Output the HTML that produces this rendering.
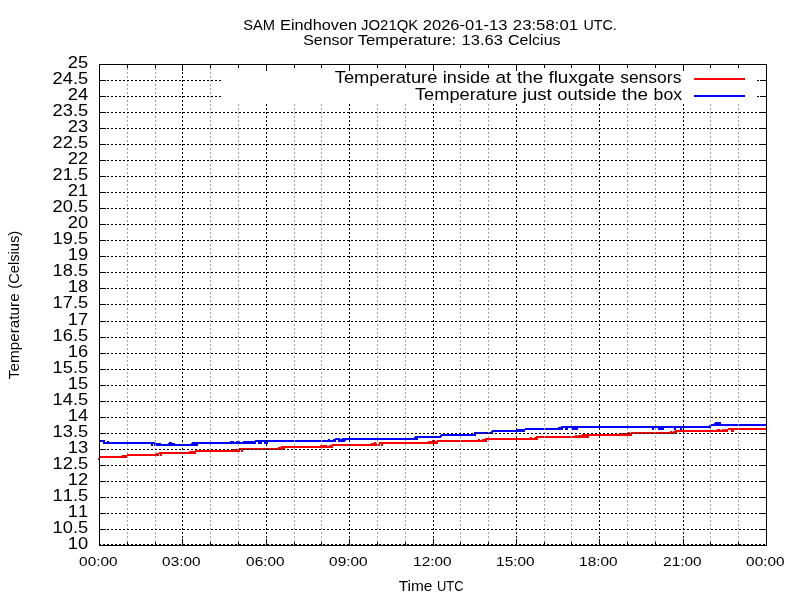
<!DOCTYPE html>
<html><head><meta charset="utf-8"><title>SAM Eindhoven temperature</title>
<style>
html,body{margin:0;padding:0;background:#fff;}
body{width:800px;height:600px;overflow:hidden;}
svg{display:block;will-change:transform;}
text{font-family:"Liberation Sans",sans-serif;fill:#000;}
text.t{font-kerning:none;}
</style></head><body>
<svg width="800" height="600" viewBox="0 0 800 600" shape-rendering="crispEdges">
<rect x="0" y="0" width="800" height="600" fill="#fff"/>
<path fill="#ff0000" d="M98 458h1v2h-1zM99 456h23v2h-23zM122 455h5v3h-5zM127 454h1v4h-1zM128 454h28v2h-28zM156 453h3v3h-3zM159 452h1v2h-1zM160 452h2v4h-2zM162 452h27v2h-27zM189 451h6v3h-6zM195 450h1v4h-1zM196 450h37v2h-37zM233 449h6v3h-6zM239 448h1v4h-1zM240 448h1v2h-1zM241 448h2v4h-2zM243 448h35v2h-35zM278 447h3v3h-3zM281 446h4v4h-4zM285 446h35v2h-35zM320 445h1v3h-1zM321 446h1v2h-1zM322 445h5v3h-5zM327 446h2v2h-2zM329 445h3v3h-3zM332 444h1v4h-1zM333 444h38v2h-38zM371 443h3v3h-3zM374 442h2v4h-2zM376 443h1v3h-1zM377 444h2v2h-2zM379 442h1v4h-1zM380 442h1v2h-1zM381 442h2v4h-2zM383 442h45v2h-45zM428 441h4v3h-4zM432 440h3v4h-3zM435 441h2v3h-2zM437 440h1v4h-1zM438 440h40v2h-40zM478 439h2v3h-2zM480 440h2v2h-2zM482 439h3v3h-3zM485 438h2v4h-2zM487 438h43v2h-43zM530 437h2v3h-2zM532 438h2v2h-2zM534 437h2v3h-2zM536 436h2v4h-2zM538 436h37v2h-37zM575 435h2v3h-2zM577 436h1v2h-1zM578 435h4v3h-4zM582 434h7v4h-7zM589 434h32v2h-32zM621 433h7v3h-7zM628 432h2v4h-2zM630 433h1v3h-1zM631 432h1v4h-1zM632 432h38v2h-38zM670 431h2v3h-2zM672 432h1v2h-1zM673 431h2v3h-2zM675 430h2v4h-2zM677 430h40v2h-40zM717 429h3v3h-3zM720 430h2v2h-2zM722 429h2v3h-2zM724 430h1v2h-1zM725 429h3v3h-3zM728 428h3v2h-3zM731 428h3v4h-3zM734 428h33v2h-33z"/>
<path fill="#0000ff" d="M99 440h4v2h-4zM103 440h2v4h-2zM105 442h2v2h-2zM107 441h2v3h-2zM109 442h42v2h-42zM151 442h2v4h-2zM153 442h1v2h-1zM154 442h1v4h-1zM155 443h6v3h-6zM161 444h7v2h-7zM168 443h1v3h-1zM169 442h3v4h-3zM172 443h3v3h-3zM175 444h16v2h-16zM191 443h1v3h-1zM192 442h6v4h-6zM198 442h32v2h-32zM230 441h4v3h-4zM234 442h2v2h-2zM236 441h4v3h-4zM240 442h3v2h-3zM243 441h12v3h-12zM255 440h1v4h-1zM256 440h2v2h-2zM258 440h4v4h-4zM262 440h2v2h-2zM264 440h4v4h-4zM268 440h60v2h-60zM328 439h2v3h-2zM330 440h3v2h-3zM333 439h2v3h-2zM335 438h1v4h-1zM336 438h2v2h-2zM338 438h2v4h-2zM340 439h2v3h-2zM342 438h3v4h-3zM345 438h1v3h-1zM346 438h68v2h-68zM414 437h1v3h-1zM415 436h3v4h-3zM418 436h22v2h-22zM440 435h1v3h-1zM441 434h1v3h-1zM442 434h32v2h-32zM474 432h2v4h-2zM476 432h15v2h-15zM491 431h1v3h-1zM492 430h1v3h-1zM493 430h23v2h-23zM516 429h9v3h-9zM525 428h33v2h-33zM558 427h3v3h-3zM561 426h2v4h-2zM563 426h2v2h-2zM565 426h3v4h-3zM568 426h4v2h-4zM572 426h6v4h-6zM578 426h74v2h-74zM652 426h2v4h-2zM654 426h4v2h-4zM658 426h6v4h-6zM664 426h10v2h-10zM674 426h2v4h-2zM676 426h4v2h-4zM680 426h2v4h-2zM682 426h27v2h-27zM709 425h1v3h-1zM710 424h1v4h-1zM711 424h3v2h-3zM714 423h1v3h-1zM715 422h6v4h-6zM721 424h46v2h-46z"/>
<g stroke="#a0a0a0" stroke-width="1" stroke-dasharray="2 2"><line x1="127.5" y1="64" x2="127.5" y2="545"/>
<line x1="155.5" y1="64" x2="155.5" y2="545"/>
<line x1="210.5" y1="64" x2="210.5" y2="545"/>
<line x1="238.5" y1="104" x2="238.5" y2="545"/>
<line x1="294.5" y1="104" x2="294.5" y2="545"/>
<line x1="321.5" y1="104" x2="321.5" y2="545"/>
<line x1="377.5" y1="104" x2="377.5" y2="545"/>
<line x1="405.5" y1="104" x2="405.5" y2="545"/>
<line x1="460.5" y1="104" x2="460.5" y2="545"/>
<line x1="488.5" y1="104" x2="488.5" y2="545"/>
<line x1="544.5" y1="104" x2="544.5" y2="545"/>
<line x1="571.5" y1="104" x2="571.5" y2="545"/>
<line x1="627.5" y1="104" x2="627.5" y2="545"/>
<line x1="655.5" y1="104" x2="655.5" y2="545"/>
<line x1="710.5" y1="104" x2="710.5" y2="545"/>
<line x1="738.5" y1="104" x2="738.5" y2="545"/></g>
<g stroke="#000" stroke-width="1" stroke-dasharray="2 2"><line x1="182.5" y1="64" x2="182.5" y2="545"/>
<line x1="266.5" y1="104" x2="266.5" y2="545"/>
<line x1="349.5" y1="104" x2="349.5" y2="545"/>
<line x1="433.5" y1="104" x2="433.5" y2="545"/>
<line x1="516.5" y1="104" x2="516.5" y2="545"/>
<line x1="599.5" y1="104" x2="599.5" y2="545"/>
<line x1="683.5" y1="104" x2="683.5" y2="545"/>
<line x1="99" y1="80.5" x2="221" y2="80.5"/>
<line x1="757" y1="80.5" x2="766" y2="80.5"/>
<line x1="99" y1="96.5" x2="221" y2="96.5"/>
<line x1="757" y1="96.5" x2="766" y2="96.5"/>
<line x1="99" y1="112.5" x2="766" y2="112.5"/>
<line x1="99" y1="128.5" x2="766" y2="128.5"/>
<line x1="99" y1="144.5" x2="766" y2="144.5"/>
<line x1="99" y1="160.5" x2="766" y2="160.5"/>
<line x1="99" y1="176.5" x2="766" y2="176.5"/>
<line x1="99" y1="192.5" x2="766" y2="192.5"/>
<line x1="99" y1="208.5" x2="766" y2="208.5"/>
<line x1="99" y1="224.5" x2="766" y2="224.5"/>
<line x1="99" y1="240.5" x2="766" y2="240.5"/>
<line x1="99" y1="256.5" x2="766" y2="256.5"/>
<line x1="99" y1="272.5" x2="766" y2="272.5"/>
<line x1="99" y1="288.5" x2="766" y2="288.5"/>
<line x1="99" y1="304.5" x2="766" y2="304.5"/>
<line x1="99" y1="321.5" x2="766" y2="321.5"/>
<line x1="99" y1="337.5" x2="766" y2="337.5"/>
<line x1="99" y1="353.5" x2="766" y2="353.5"/>
<line x1="99" y1="369.5" x2="766" y2="369.5"/>
<line x1="99" y1="385.5" x2="766" y2="385.5"/>
<line x1="99" y1="401.5" x2="766" y2="401.5"/>
<line x1="99" y1="417.5" x2="766" y2="417.5"/>
<line x1="99" y1="433.5" x2="766" y2="433.5"/>
<line x1="99" y1="449.5" x2="766" y2="449.5"/>
<line x1="99" y1="465.5" x2="766" y2="465.5"/>
<line x1="99" y1="481.5" x2="766" y2="481.5"/>
<line x1="99" y1="497.5" x2="766" y2="497.5"/>
<line x1="99" y1="513.5" x2="766" y2="513.5"/>
<line x1="99" y1="529.5" x2="766" y2="529.5"/>
<line x1="99" y1="544.5" x2="766" y2="544.5"/></g>
<path fill="#000" d="M99 64h668v1h-668zM99 545h668v1h-668zM99 64h1v482h-1zM766 64h1v482h-1zM99 65h1v6h-1zM99 539h1v6h-1zM127 65h1v3h-1zM127 542h1v3h-1zM155 65h1v3h-1zM155 542h1v3h-1zM182 65h1v6h-1zM182 539h1v6h-1zM210 65h1v3h-1zM210 542h1v3h-1zM238 65h1v3h-1zM238 542h1v3h-1zM266 65h1v6h-1zM266 539h1v6h-1zM294 65h1v3h-1zM294 542h1v3h-1zM321 65h1v3h-1zM321 542h1v3h-1zM349 65h1v6h-1zM349 539h1v6h-1zM377 65h1v3h-1zM377 542h1v3h-1zM405 65h1v3h-1zM405 542h1v3h-1zM433 65h1v6h-1zM433 539h1v6h-1zM460 65h1v3h-1zM460 542h1v3h-1zM488 65h1v3h-1zM488 542h1v3h-1zM516 65h1v6h-1zM516 539h1v6h-1zM544 65h1v3h-1zM544 542h1v3h-1zM571 65h1v3h-1zM571 542h1v3h-1zM599 65h1v6h-1zM599 539h1v6h-1zM627 65h1v3h-1zM627 542h1v3h-1zM655 65h1v3h-1zM655 542h1v3h-1zM683 65h1v6h-1zM683 539h1v6h-1zM710 65h1v3h-1zM710 542h1v3h-1zM738 65h1v3h-1zM738 542h1v3h-1zM766 65h1v6h-1zM766 539h1v6h-1zM100 64h6v1h-6zM760 64h6v1h-6zM100 80h6v1h-6zM760 80h6v1h-6zM100 96h6v1h-6zM760 96h6v1h-6zM100 112h6v1h-6zM760 112h6v1h-6zM100 128h6v1h-6zM760 128h6v1h-6zM100 144h6v1h-6zM760 144h6v1h-6zM100 160h6v1h-6zM760 160h6v1h-6zM100 176h6v1h-6zM760 176h6v1h-6zM100 192h6v1h-6zM760 192h6v1h-6zM100 208h6v1h-6zM760 208h6v1h-6zM100 224h6v1h-6zM760 224h6v1h-6zM100 240h6v1h-6zM760 240h6v1h-6zM100 256h6v1h-6zM760 256h6v1h-6zM100 272h6v1h-6zM760 272h6v1h-6zM100 288h6v1h-6zM760 288h6v1h-6zM100 304h6v1h-6zM760 304h6v1h-6zM100 321h6v1h-6zM760 321h6v1h-6zM100 337h6v1h-6zM760 337h6v1h-6zM100 353h6v1h-6zM760 353h6v1h-6zM100 369h6v1h-6zM760 369h6v1h-6zM100 385h6v1h-6zM760 385h6v1h-6zM100 401h6v1h-6zM760 401h6v1h-6zM100 417h6v1h-6zM760 417h6v1h-6zM100 433h6v1h-6zM760 433h6v1h-6zM100 449h6v1h-6zM760 449h6v1h-6zM100 465h6v1h-6zM760 465h6v1h-6zM100 481h6v1h-6zM760 481h6v1h-6zM100 497h6v1h-6zM760 497h6v1h-6zM100 513h6v1h-6zM760 513h6v1h-6zM100 529h6v1h-6zM760 529h6v1h-6zM100 545h6v1h-6zM760 545h6v1h-6z"/>
<rect x="694" y="78" width="51" height="2" fill="#ff0000"/>
<rect x="694" y="95" width="51" height="2" fill="#0000ff"/>
<text transform="translate(243.23 29.90) scale(0.9439 1)" font-size="15.55">SAM</text>
<text transform="translate(280.05 29.90) scale(1.0490 1)" font-size="15.55">Eindhoven</text>
<text transform="translate(361.01 29.90) scale(0.9607 1)" font-size="15.55">JO21QK</text>
<text transform="translate(422.73 29.90) scale(1.0652 1)" font-size="15.55">2026-01-13</text>
<text transform="translate(512.82 29.90) scale(1.0779 1)" font-size="15.55">23:58:01</text>
<text transform="translate(583.45 29.90) scale(0.9195 1)" font-size="15.55">UTC.</text>
<text transform="translate(303.18 44.90) scale(1.0358 1)" font-size="15.4">Sensor</text>
<text transform="translate(357.72 44.90) scale(1.0863 1)" font-size="15.4">Temperature:</text>
<text transform="translate(461.52 44.90) scale(1.0739 1)" font-size="15.4">13.63</text>
<text transform="translate(508.06 44.90) scale(1.0402 1)" font-size="15.4">Celcius</text>
<text transform="translate(334.79 83.00) scale(1.0980 1)" font-size="16.64">Temperature</text>
<text transform="translate(442.84 83.00) scale(1.0899 1)" font-size="16.64">inside</text>
<text transform="translate(495.56 83.00) scale(1.1382 1)" font-size="16.64">at</text>
<text transform="translate(516.88 83.00) scale(1.1371 1)" font-size="16.64">the</text>
<text transform="translate(548.43 83.00) scale(1.1353 1)" font-size="16.64">fluxgate</text>
<text transform="translate(620.13 83.00) scale(1.0522 1)" font-size="16.64">sensors</text>
<text transform="translate(414.89 100.00) scale(1.0977 1)" font-size="16.64">Temperature</text>
<text transform="translate(522.76 100.00) scale(1.1201 1)" font-size="16.64">just</text>
<text transform="translate(557.26 100.00) scale(1.1047 1)" font-size="16.64">outside</text>
<text transform="translate(621.85 100.00) scale(1.1367 1)" font-size="16.64">the</text>
<text transform="translate(653.61 100.00) scale(1.0615 1)" font-size="16.64">box</text>
<text transform="translate(398.65 591.00) scale(1.1032 1)" font-size="14.0">Time</text>
<text transform="translate(436.97 591.00) scale(0.9254 1)" font-size="14.0">UTC</text>
<text transform="translate(19.30 379.24) rotate(-90) scale(1.0989 1)" font-size="13.93">Temperature</text>
<text transform="translate(19.30 288.73) rotate(-90) scale(1.0544 1)" font-size="13.93">(Celsius)</text>
<text class="t" transform="translate(98.30 566.20) scale(1.1519 1)" font-size="13.33" text-anchor="middle">00:00</text>
<text class="t" transform="translate(181.30 566.20) scale(1.1519 1)" font-size="13.33" text-anchor="middle">03:00</text>
<text class="t" transform="translate(265.30 566.20) scale(1.1519 1)" font-size="13.33" text-anchor="middle">06:00</text>
<text class="t" transform="translate(348.30 566.20) scale(1.1519 1)" font-size="13.33" text-anchor="middle">09:00</text>
<text class="t" transform="translate(432.30 566.20) scale(1.1519 1)" font-size="13.33" text-anchor="middle">12:00</text>
<text class="t" transform="translate(515.30 566.20) scale(1.1519 1)" font-size="13.33" text-anchor="middle">15:00</text>
<text class="t" transform="translate(598.30 566.20) scale(1.1519 1)" font-size="13.33" text-anchor="middle">18:00</text>
<text class="t" transform="translate(682.30 566.20) scale(1.1519 1)" font-size="13.33" text-anchor="middle">21:00</text>
<text class="t" transform="translate(765.30 566.20) scale(1.1519 1)" font-size="13.33" text-anchor="middle">00:00</text>
<text class="t" transform="translate(88.15 68.10) scale(1.1000 1)" font-size="16.64" text-anchor="end">25</text>
<text class="t" transform="translate(88.15 84.10) scale(1.1000 1)" font-size="16.64" text-anchor="end">24.5</text>
<text class="t" transform="translate(88.15 100.10) scale(1.1000 1)" font-size="16.64" text-anchor="end">24</text>
<text class="t" transform="translate(88.15 116.10) scale(1.1000 1)" font-size="16.64" text-anchor="end">23.5</text>
<text class="t" transform="translate(88.15 132.10) scale(1.1000 1)" font-size="16.64" text-anchor="end">23</text>
<text class="t" transform="translate(88.15 148.10) scale(1.1000 1)" font-size="16.64" text-anchor="end">22.5</text>
<text class="t" transform="translate(88.15 164.10) scale(1.1000 1)" font-size="16.64" text-anchor="end">22</text>
<text class="t" transform="translate(88.15 180.10) scale(1.1000 1)" font-size="16.64" text-anchor="end">21.5</text>
<text class="t" transform="translate(88.15 196.10) scale(1.1000 1)" font-size="16.64" text-anchor="end">21</text>
<text class="t" transform="translate(88.15 212.10) scale(1.1000 1)" font-size="16.64" text-anchor="end">20.5</text>
<text class="t" transform="translate(88.15 228.10) scale(1.1000 1)" font-size="16.64" text-anchor="end">20</text>
<text class="t" transform="translate(88.15 244.10) scale(1.1000 1)" font-size="16.64" text-anchor="end">19.5</text>
<text class="t" transform="translate(88.15 260.10) scale(1.1000 1)" font-size="16.64" text-anchor="end">19</text>
<text class="t" transform="translate(88.15 276.10) scale(1.1000 1)" font-size="16.64" text-anchor="end">18.5</text>
<text class="t" transform="translate(88.15 292.10) scale(1.1000 1)" font-size="16.64" text-anchor="end">18</text>
<text class="t" transform="translate(88.15 308.10) scale(1.1000 1)" font-size="16.64" text-anchor="end">17.5</text>
<text class="t" transform="translate(88.15 325.10) scale(1.1000 1)" font-size="16.64" text-anchor="end">17</text>
<text class="t" transform="translate(88.15 341.10) scale(1.1000 1)" font-size="16.64" text-anchor="end">16.5</text>
<text class="t" transform="translate(88.15 357.10) scale(1.1000 1)" font-size="16.64" text-anchor="end">16</text>
<text class="t" transform="translate(88.15 373.10) scale(1.1000 1)" font-size="16.64" text-anchor="end">15.5</text>
<text class="t" transform="translate(88.15 389.10) scale(1.1000 1)" font-size="16.64" text-anchor="end">15</text>
<text class="t" transform="translate(88.15 405.10) scale(1.1000 1)" font-size="16.64" text-anchor="end">14.5</text>
<text class="t" transform="translate(88.15 421.10) scale(1.1000 1)" font-size="16.64" text-anchor="end">14</text>
<text class="t" transform="translate(88.15 437.10) scale(1.1000 1)" font-size="16.64" text-anchor="end">13.5</text>
<text class="t" transform="translate(88.15 453.10) scale(1.1000 1)" font-size="16.64" text-anchor="end">13</text>
<text class="t" transform="translate(88.15 469.10) scale(1.1000 1)" font-size="16.64" text-anchor="end">12.5</text>
<text class="t" transform="translate(88.15 485.10) scale(1.1000 1)" font-size="16.64" text-anchor="end">12</text>
<text class="t" transform="translate(88.15 501.10) scale(1.1000 1)" font-size="16.64" text-anchor="end">11.5</text>
<text class="t" transform="translate(88.15 517.10) scale(1.1000 1)" font-size="16.64" text-anchor="end">11</text>
<text class="t" transform="translate(88.15 533.10) scale(1.1000 1)" font-size="16.64" text-anchor="end">10.5</text>
<text class="t" transform="translate(88.15 549.10) scale(1.1000 1)" font-size="16.64" text-anchor="end">10</text>
</svg>
</body></html>
